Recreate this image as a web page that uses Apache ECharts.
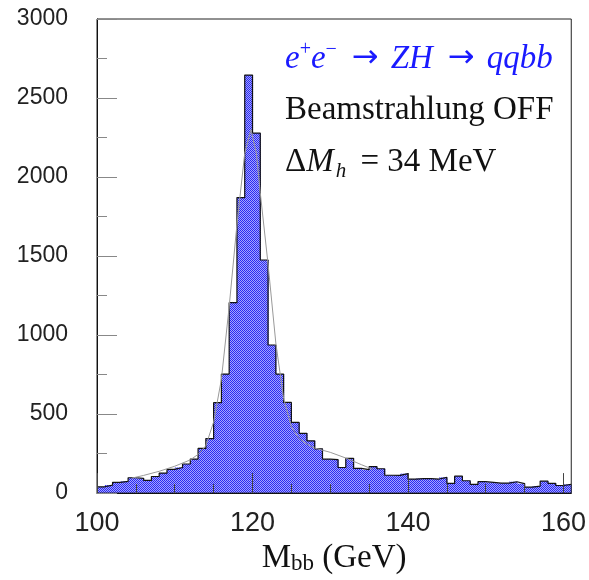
<!DOCTYPE html>
<html>
<head>
<meta charset="utf-8">
<script src="https://cdn.jsdelivr.net/npm/echarts@6/dist/echarts.min.js"></script>
<style>
html,body{margin:0;padding:0;background:#fff;}
#main{width:589px;height:580px;}
</style>
</head>
<body>
<div id="main"></div>
<script>
// ---- data ----
const binLow = [100,101,102,103,104,105,106,107,108,109,110,111,112,113,114,115,116,117,118,119,120,121,122,123,124,125,126,127,128,129,130,131,132,133,134,135,136,137,138,139,140,141,142,143,144,145,146,147,148,149,150,151,152,153,154,155,156,157,158,159,160];
const counts = [40,51,68,74,97,93,80,105,127,150,162,184,215,283,345,572,753,1205,1870,2645,2278,1475,937,753,574,447,378,331,280,215,212,162,220,157,148,168,154,113,112,123,89,92,92,89,99,62,107,78,55,72,68,63,63,72,60,38,44,76,62,48,55];
const binWidth = 1;
const fitX = [104.5,106,108,110,112,113,114,115,116,117,118,119,119.8,120.5,121,122,123,124,125,126,127,128,130,132,134,135.5];
const fitY = [95,112,138,170,210,245,300,450,720,1180,1700,2150,2300,2150,1900,1450,950,600,420,345,310,285,258,222,180,150];
const xMajorTicks = [100,120,140,160];
const xMinorTicks = [105,110,115,125,130,135,145,150,155];
const xRange = [100,161];
const yRange = [0,3000];
const yStep = 500;

// ---- pattern ----
const pc = document.createElement('canvas');
pc.width = 2; pc.height = 2;
const pctx = pc.getContext('2d');
pctx.fillStyle = '#2a2af2'; pctx.fillRect(0,0,2,2);
pctx.fillStyle = '#a4a4ff'; pctx.fillRect(1,0,1,1); pctx.fillRect(0,1,1,1);
const pattern = {image: pc, repeat: 'repeat'};

const histData = binLow.map((x, i) => [x, counts[i]]);
const outline = binLow.map((x, i) => [x, counts[i]]);
outline.push([binLow[binLow.length-1] + binWidth, counts[counts.length-1]]);
const fitData = fitX.map((x, i) => [x, fitY[i]]);

const chart = echarts.init(document.getElementById('main'), null, {renderer: 'canvas'});
const serif = 'Liberation Serif';
chart.setOption({
  animation: false,
  grid: {left: 97, top: 19, width: 475, height: 475, show: true, borderColor: '#222', borderWidth: 1, z: 10, backgroundColor: 'transparent'},
  xAxis: [{
    type: 'value', min: xRange[0], max: xRange[1], z: 10,
    axisLine: {show: true, lineStyle: {color: '#111', width: 1}},
    axisTick: {show: true, inside: true, length: 20, customValues: xMajorTicks, lineStyle: {color: '#444'}},
    axisLabel: {customValues: xMajorTicks, fontFamily: 'Liberation Sans', fontSize: 27, color: '#222', margin: 17, formatter: v => String(v)},
    splitLine: {show: false},
    name: '{m|M}{s|bb}{m| (GeV)}',
    nameLocation: 'middle', nameGap: 29,
    nameTextStyle: {rich: {
      m: {fontFamily: serif, fontSize: 33, color: '#111', lineHeight: 36, verticalAlign: 'bottom'},
      s: {fontFamily: serif, fontSize: 23, color: '#111', lineHeight: 14, verticalAlign: 'bottom'}
    }}
  }, {
    type: 'value', min: xRange[0], max: xRange[1], z: 10, position: 'bottom',
    axisLine: {show: false},
    axisTick: {show: true, inside: true, length: 9, customValues: xMinorTicks, lineStyle: {color: '#444'}},
    axisLabel: {show: false},
    splitLine: {show: false}
  }],
  yAxis: {
    type: 'value', min: yRange[0], max: yRange[1], interval: yStep, z: 10,
    axisLine: {show: true, lineStyle: {color: '#111', width: 1}},
    axisTick: {show: true, inside: true, length: 20, lineStyle: {color: '#888'}},
    minorTick: {show: true, splitNumber: 2, length: 10, lineStyle: {color: '#888'}},
    axisLabel: {fontFamily: 'Liberation Sans', fontSize: 23, color: '#222', margin: 29, formatter: v => String(v)},
    splitLine: {show: false}
  },
  series: [{
    type: 'custom',
    xAxisIndex: 0,
    data: histData,
    z: 2,
    renderItem: function (params, api) {
      const x0 = api.value(0), v = api.value(1);
      const p1 = api.coord([x0, v]);
      const p2 = api.coord([x0 + binWidth, 0]);
      return {
        type: 'rect',
        shape: {x: p1[0], y: p1[1], width: p2[0] - p1[0] + 0.6, height: p2[1] - p1[1]},
        style: {fill: pattern, stroke: null}
      };
    }
  }, {
    type: 'line', xAxisIndex: 0, data: outline, step: 'end', symbol: 'none', z: 4,
    lineStyle: {color: '#111', width: 1.2}
  }, {
    type: 'line', xAxisIndex: 0, data: fitData, symbol: 'none', z: 5,
    lineStyle: {color: '#999', width: 1}
  }],
  graphic: [{
    type: 'text', left: 285, top: 40, z: 20,
    style: {
      text: '{i|e}{sp|+}{i|e}{sp|−}{a|→}{i|ZH}{a|→}{i|qqbb}',
      rich: {
        i: {fontFamily: serif, fontStyle: 'italic', fontSize: 33, fill: '#1a1aff', lineHeight: 38},
        a: {fontFamily: 'DejaVu Sans', fontSize: 32, fill: '#1a1aff', lineHeight: 38, padding: [0, 12, 0, 15]},
        sp: {fontFamily: serif, fontSize: 20, fill: '#1a1aff', lineHeight: 17, verticalAlign: 'top'}
      }
    }
  }, {
    type: 'text', left: 285, top: 94, z: 20,
    style: {text: 'Beamstrahlung OFF', font: '33px "Liberation Serif"', fill: '#111'}
  }, {
    type: 'text', left: 285, top: 146, z: 20,
    style: {
      text: '{n|Δ}{i|M}{sb|h}{n| = 34 MeV}',
      rich: {
        i: {fontFamily: serif, fontStyle: 'italic', fontSize: 33, fill: '#111', lineHeight: 39},
        n: {fontFamily: serif, fontSize: 33, fill: '#111', lineHeight: 39},
        sb: {fontFamily: serif, fontStyle: 'italic', fontSize: 21, fill: '#111', lineHeight: 11, verticalAlign: 'bottom', padding: [0, 6, 0, 2]}
      }
    }
  }]
});
</script>
</body>
</html>
